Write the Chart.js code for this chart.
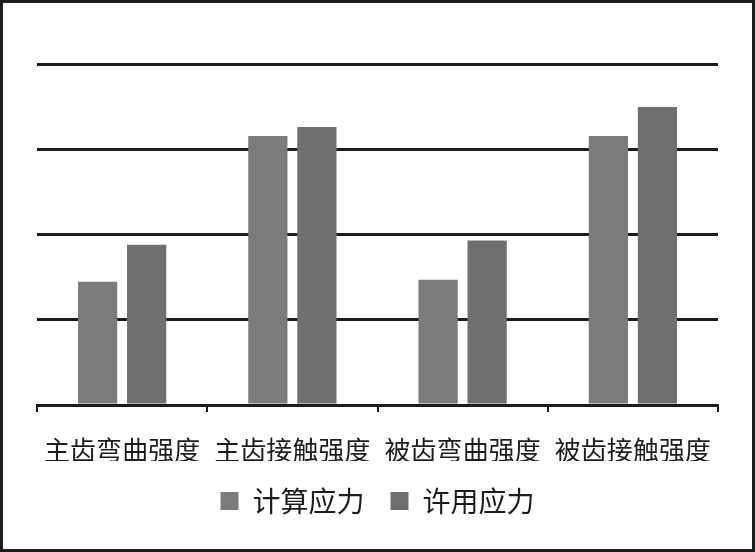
<!DOCTYPE html>
<html>
<head>
<meta charset="utf-8">
<script src="https://cdn.jsdelivr.net/npm/chart.js@4/dist/chart.umd.min.js"></script>
<style>
    html, body { margin: 0; padding: 0; background: #fff; }
    #chart { display: block; }
</style>
</head>
<body>
<canvas id="chart" width="755" height="552"></canvas>
<script>
// categories and series (grid step = 200)
var categories = ["主齿弯曲强度", "主齿接触强度", "被齿弯曲强度", "被齿接触强度"];
var calcStress = [289, 631, 294, 631];
var allowStress = [376, 652, 386, 699];
var yTicks = [0, 200, 400, 600, 800];

var ink = "#1c1c1c";
var cjk = "'Noto Sans CJK SC', 'Noto Sans', sans-serif";

// frame round the whole picture
var framePlugin = {
    id: "frame",
    afterDraw: function (chart) {
        var c = chart.ctx;
        c.save();
        c.strokeStyle = ink;
        c.lineWidth = 3;
        c.strokeRect(1.5, 1.5, chart.width - 3, chart.height - 3);
        c.restore();
    }
};

var ctx = document.getElementById("chart");
var barChart = new Chart(ctx, {
    type: 'bar',
    data: {
        labels: categories,
        datasets: [{
            label: '计算应力',
            data: calcStress,
            backgroundColor: '#7b7b7b',
            borderWidth: 0
        }, {
            label: '许用应力',
            data: allowStress,
            backgroundColor: '#6f6f6f',
            borderWidth: 0
        }]
    },
    options: {
        responsive: false,
        animation: false,
        devicePixelRatio: 1,
        layout: {
            padding: { left: 37, right: 37, top: 64, bottom: 27 }
        },
        datasets: {
            bar: { categoryPercentage: 0.576, barPercentage: 0.8 }
        },
        scales: {
            x: {
                grid: {
                    display: true,
                    drawOnChartArea: false,
                    drawTicks: true,
                    tickLength: 7,
                    color: ink,
                    lineWidth: 2
                },
                border: { display: true, color: ink, width: 3 },
                ticks: {
                    color: ink,
                    padding: 23,
                    maxRotation: 0,
                    autoSkip: false,
                    font: { family: cjk, size: 26 }
                },
                afterFit: function (scale) { scale.height = 56; }
            },
            y: {
                min: yTicks[0],
                max: yTicks[yTicks.length - 1],
                afterBuildTicks: function (scale) {
                    scale.ticks = yTicks.map(function (v) { return { value: v }; });
                },
                grid: { color: ink, lineWidth: 3, drawTicks: false },
                border: { display: false },
                ticks: { display: false }
            }
        },
        plugins: {
            legend: {
                position: 'bottom',
                labels: {
                    color: ink,
                    boxWidth: 18,
                    boxHeight: 18,
                    padding: 26,
                    font: { family: cjk, size: 28 }
                }
            },
            tooltip: { enabled: false }
        }
    },
    plugins: [framePlugin]
});
</script>
</body>
</html>
